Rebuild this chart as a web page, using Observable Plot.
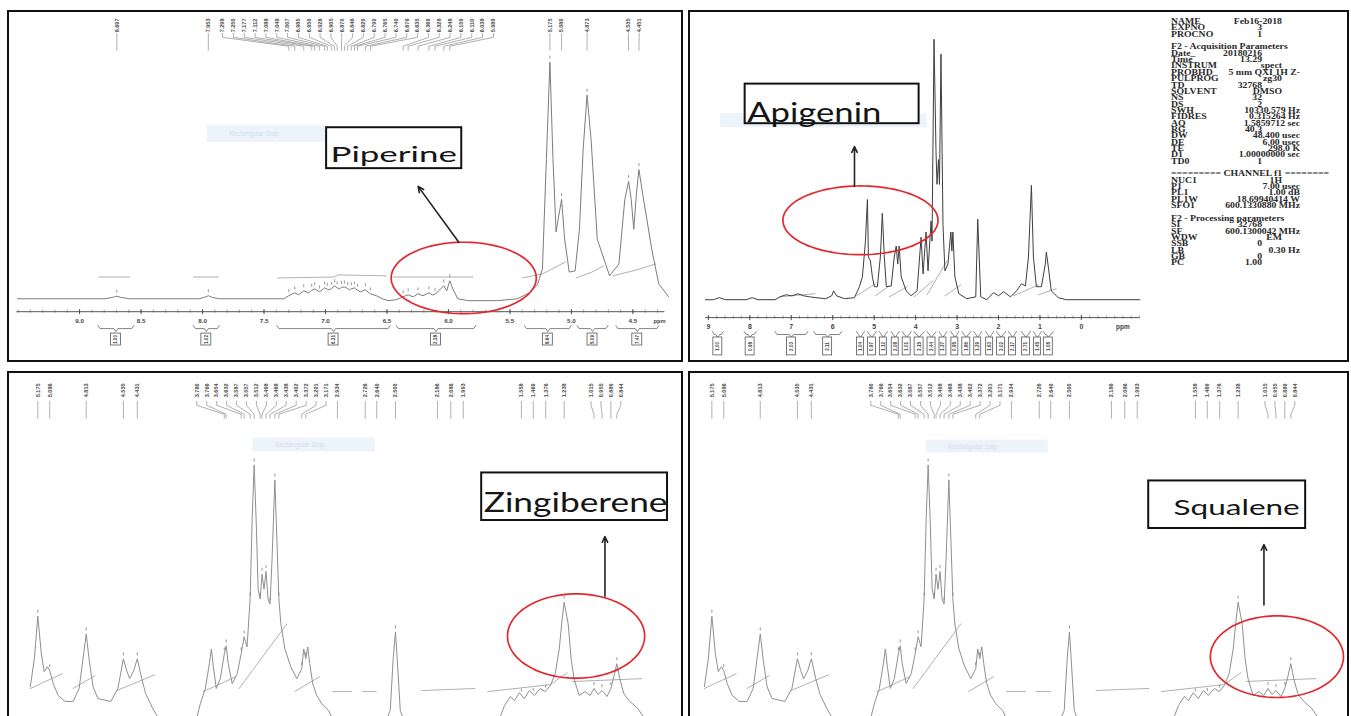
<!DOCTYPE html>
<html>
<head>
<meta charset="utf-8">
<script src="https://cdn.jsdelivr.net/npm/d3@7"></script>
<script src="https://cdn.jsdelivr.net/npm/@observablehq/plot@0.6"></script>
<style>
  html, body { margin: 0; padding: 0; background: #fff; }
  body { width: 1351px; height: 716px; overflow: hidden; position: relative; }
  .panel { position: absolute; border: 2px solid #111; box-sizing: border-box; overflow: hidden; background: #fff; }
  .panel > svg { position: absolute; left: -2px; top: -2px; }
  .params { position: absolute; transform: scaleX(1.3); transform-origin: 0 0;
            font-family: "Liberation Serif", "DejaVu Serif", serif; font-weight: bold; font-size: 7.5px; color: #2a2a2a; }
  .params div { position: absolute; left: 0; white-space: pre; line-height: 7px; }
  .params span.v { position: absolute; top: 0; transform: translateX(-100%); }
</style>
</head>
<body>
<div id="piperine" class="panel" style="left:7px;top:10px;width:676px;height:352px"></div>
<div id="apigenin" class="panel" style="left:688px;top:10px;width:661px;height:352px"></div>
<div id="zingiberene" class="panel" style="left:7px;top:371px;width:676px;height:350px"></div>
<div id="squalene" class="panel" style="left:688px;top:371px;width:661px;height:350px"></div>
<script>
// ---------- Piperine spectrum: [ppm, relative intensity] ----------
const piperineSpectrum = [
  [9.505,0],[8.794,0],[8.729,0.6],[8.697,1.1],[8.665,0.6],[8.592,0],
  [8.026,0],[7.985,0.6],[7.953,1.3],[7.921,0.6],[7.864,0],
  [7.339,0],[7.298,1.3],[7.250,2.5],[7.218,1.7],[7.177,3.4],[7.137,2.5],[7.112,3.6],[7.088,4.2],[7.048,2.9],
  [7.007,4.6],[6.985,4.0],[6.967,3.8],[6.950,4.4],[6.926,5.5],[6.905,4.6],[6.886,4.2],[6.870,4.8],[6.846,5.0],
  [6.820,4.3],[6.805,3.8],[6.790,4.2],[6.765,4.6],[6.740,3.6],[6.716,2.9],[6.676,3.8],[6.635,2.1],[6.587,1.3],
  [6.538,0],[6.490,-0.8],[6.425,-0.4],[6.369,0.8],[6.328,1.7],[6.288,0.8],[6.248,2.1],[6.207,1.3],[6.159,2.5],
  [6.130,1.6],[6.110,1.9],[6.070,3.8],[6.038,5.5],[6.014,3.4],[5.989,7.6],[5.965,4.2],[5.924,0],[5.843,-0.8],
  [5.601,-0.8],[5.439,0],[5.342,2.5],[5.277,5.9],[5.236,12.6],[5.204,58.8],[5.175,100],[5.150,58.8],[5.125,28.2],
  [5.105,34.5],[5.080,42.0],[5.055,25.2],[5.018,11.3],[4.970,11.8],[4.935,29.4],[4.905,63.0],[4.873,86.1],
  [4.840,67.2],[4.790,25.2],[4.690,9.7],[4.614,14.7],[4.566,42.0],[4.535,49.6],[4.514,42.0],[4.493,29.4],
  [4.472,44.1],[4.451,54.6],[4.420,44.1],[4.347,21.0],[4.290,6.3],[4.209,0.8]
];
const piperineIntegralTraces = [
  [[8.842,9.2],[8.592,9.2]],
  [[8.074,9.2],[7.872,9.2]],
  [[7.387,8.8],[6.935,9.2],[6.894,10.1],[6.506,9.7]],
  [[6.449,9.2],[5.802,9.2]],
  [[5.398,8.8],[5.236,10.5],[5.050,15.5]],
  [[4.962,8.8],[4.833,11.3],[4.736,13.9]],
  [[4.663,9.7],[4.469,12.2],[4.316,14.7]]
];
const piperinePeakGroups = [
  [8.697], [7.953],
  [7.298,7.250,7.177,7.112,7.088,7.048,7.007,6.985,6.950,6.926,6.905,6.870,6.846,
   6.820,6.790,6.765,6.740,6.676,6.635,6.369,6.328,6.248,6.159,6.110,6.038,5.989],
  [5.175,5.080], [4.873], [4.535,4.451]
];
const piperineIntegrals = [
  [8.850,8.559,"1.00"],[8.074,7.864,"1.02"],[7.395,6.474,"6.31"],[6.425,5.778,"2.18"],
  [5.382,5.002,"8.64"],[4.954,4.703,"5.09"],[4.639,4.290,"7.47"]
];
const piperineTickLabels = [9.0,8.5,8.0,7.5,7.0,6.5,6.0,5.5,5.0,4.5];
const piperineCallout = { name: "Piperine", box: [6.991,5.892,55.0,72.3], text: [6.959,5.932,58.0],
  ring: [5.876,8.8,0.590,15.1], arrow: [5.916,23.9,6.247,47.5], snip: [7.961,6.975,66.0,73.1], snipText: true };

// ---------- Apigenin spectrum ----------
const apigeninSpectrum = [
  [9.072,0],[8.880,0],[8.736,0.8],[8.592,0],[8.089,0],[7.945,0.8],[7.801,0],[7.393,0],[7.273,1.1],[7.129,1.9],
  [6.986,1.5],[6.842,2.3],[6.698,1.5],[6.554,1.1],[6.410,0.8],[6.170,0.4],[6.026,1.5],[5.978,3.4],[5.906,1.5],
  [5.715,0.4],[5.475,0.8],[5.355,5.0],[5.283,8.8],[5.211,22.5],[5.163,38.5],[5.139,16.4],[5.091,14.9],[5.043,8.8],
  [4.995,5.0],[4.923,5.0],[4.851,16.4],[4.803,33.2],[4.755,16.4],[4.707,5.0],[4.588,5.3],[4.516,16.4],[4.468,20.6],
  [4.432,13.7],[4.396,20.6],[4.348,8.8],[4.228,3.4],[4.108,1.5],[3.964,3.4],[3.868,24.0],[3.820,9.9],[3.748,26.0],
  [3.700,11.1],[3.628,30.2],[3.604,22.5],[3.556,100],[3.508,56.9],[3.484,44.3],[3.448,53.8],[3.424,44.3],[3.388,94.3],
  [3.340,29.0],[3.293,11.1],[3.221,13.7],[3.149,26.0],[3.125,18.7],[3.101,26.0],[3.053,8.8],[2.957,2.3],[2.765,0.4],
  [2.549,1.1],[2.501,30.9],[2.429,1.1],[2.285,0],[2.118,2.7],[1.998,1.5],[1.878,3.1],[1.710,1.1],[1.566,3.4],
  [1.446,6.1],[1.350,5.3],[1.278,16.4],[1.206,43.9],[1.158,16.4],[1.086,5.0],[0.966,5.0],[0.870,13.7],[0.846,18.3],
  [0.798,12.6],[0.727,3.4],[0.559,0.8],[0.367,0],[-1.408,0]
];
const apigeninIntegralTraces = [
  [[7.273,1.1],[6.434,2.3]],
  [[5.427,1.5],[4.971,6.1]],
  [[4.971,1.5],[4.635,5.3]],
  [[4.635,1.1],[4.204,5.0]],
  [[4.036,1.1],[3.580,7.3]],
  [[3.724,1.9],[3.245,14.9]],
  [[3.293,1.5],[2.909,5.7]],
  [[1.638,1.5],[1.038,5.7]],
  [[1.038,1.9],[0.607,4.2]]
];
const apigeninIntegrals = [
  [8.904,8.640,"1.00"],[8.137,7.849,"0.98"],[7.393,6.602,"2.03"],[6.458,5.787,"2.11"],[5.427,5.235,"1.04"],
  [5.163,4.947,"0.97"],[4.875,4.683,"1.12"],[4.588,4.396,"2.08"],[4.324,4.108,"1.01"],[4.036,3.796,"3.15"],
  [3.724,3.508,"2.44"],[3.436,3.245,"1.37"],[3.149,2.957,"0.95"],[2.885,2.669,"1.86"],[2.597,2.405,"1.29"],
  [2.309,2.118,"1.63"],[2.046,1.830,"3.02"],[1.758,1.566,"2.17"],[1.446,1.230,"2.71"],[1.158,0.966,"1.45"],
  [0.918,0.679,"1.08"]
];
const apigeninTickLabels = [9,8,7,6,5,4,3,2,1,0];
const apigeninCallout = { name: "Apigenin", box: [8.113,3.916,67.6,82.8], text: [8.065,4.827,68.3],
  ring: [5.331,30.5,1.871,13.2], arrow: [5.475,43.5,5.475,58.8], snip: [8.712,3.724,66.0,71.4], snipText: false };
const acquisitionParams = [
  ["NAME","Feb16-2018"],["EXPNO","3"],["PROCNO","1"],null,
  ["F2 - Acquisition Parameters",""],["Date_","20180216"],["Time","13.29"],["INSTRUM","spect"],
  ["PROBHD","5 mm QXI 1H Z-"],["PULPROG","zg30"],["TD","32768"],["SOLVENT","DMSO"],["NS","32"],["DS","2"],
  ["SWH","10330.579 Hz"],["FIDRES","0.315264 Hz"],["AQ","1.5859712 sec"],["RG","40.3"],["DW","48.400 usec"],
  ["DE","6.00 usec"],["TE","298.0 K"],["D1","1.00000000 sec"],["TD0","1"],null,
  ["========= CHANNEL f1 ========",""],["NUC1","1H"],["P1","7.00 usec"],["PL1","1.00 dB"],
  ["PL1W","18.69940414 W"],["SFO1","600.1330880 MHz"],null,
  ["F2 - Processing parameters",""],["SI","32768"],["SF","600.1300042 MHz"],["WDW","EM"],["SSB","0"],
  ["LB","0.30 Hz"],["GB","0"],["PC","1.00"]
];

// ---------- Extract spectrum (shown for zingiberene and squalene) ----------
const extractSpectrum = [
  [5.231,14.2],[5.201,25.0],[5.175,41.5],[5.149,26.9],[5.127,20.0],[5.104,21.9],[5.086,20.4],[5.060,15.4],
  [5.023,10.8],[4.971,8.5],[4.911,8.5],[4.866,13.5],[4.837,25.0],[4.813,34.6],[4.792,25.0],[4.762,14.2],
  [4.725,9.6],[4.629,8.5],[4.576,13.5],[4.535,25.0],[4.510,20.4],[4.488,17.3],[4.458,20.4],[4.431,25.0],
  [4.398,17.3],[4.368,11.5],[4.316,5.8],[4.264,1.2],[4.227,-0.8],[4.100,-2.0],
  [3.997,0],[3.959,7.7],[3.922,13.5],[3.892,23.1],[3.877,28.8],[3.862,21.9],[3.840,13.5],[3.810,17.3],
  [3.780,26.9],[3.766,30.0],[3.751,23.1],[3.721,15.4],[3.684,19.2],[3.654,26.9],[3.632,33.5],[3.610,29.6],
  [3.587,48.1],[3.572,78.8],[3.557,100],[3.542,78.8],[3.527,51.9],[3.512,48.1],[3.498,57.7],[3.483,51.9],
  [3.468,58.8],[3.453,48.1],[3.438,46.2],[3.423,63.5],[3.402,94.2],[3.387,71.2],[3.372,48.1],[3.357,38.5],
  [3.327,28.8],[3.283,21.9],[3.238,17.3],[3.201,21.2],[3.186,28.8],[3.171,25.0],[3.156,29.6],[3.141,23.1],
  [3.119,15.4],[3.089,10.8],[3.052,7.7],[3.000,5.0],[2.955,0],[2.800,-2.0],
  [2.591,-1.2],[2.539,5.0],[2.517,25.0],[2.500,35.4],[2.487,25.0],[2.464,5.0],[2.420,-1.2],[2.100,-2.0],
  [1.736,0],[1.684,6.9],[1.640,10.4],[1.610,8.8],[1.573,11.9],[1.536,9.6],[1.498,12.7],[1.461,10.8],
  [1.416,13.5],[1.379,12.3],[1.342,14.6],[1.305,19.2],[1.275,28.8],[1.253,40.4],[1.238,46.9],[1.208,38.5],
  [1.186,25.0],[1.164,17.3],[1.126,10.8],[1.082,12.3],[1.045,10.8],[1.015,13.5],[0.985,11.2],[0.955,12.7],
  [0.918,10.4],[0.889,13.5],[0.866,18.1],[0.844,23.1],[0.822,17.3],[0.792,11.5],[0.747,8.5],[0.688,5.8],
  [0.636,1.9]
];
const extractIntegralTraces = [
  [[5.231,13.5],[4.993,19.2]],
  [[4.911,13.5],[4.747,18.5]],
  [[4.584,12.7],[4.301,18.8]],
  [[3.937,12.3],[3.692,18.1]],
  [[3.669,13.5],[3.312,38.5]],
  [[3.253,12.3],[3.067,18.1]],
  [[2.970,12.3],[2.829,12.3]],
  [[2.747,12.3],[2.643,12.3]],
  [[2.301,12.7],[1.907,13.5]],
  [[1.811,12.3],[1.342,15.0],[1.216,19.6]],
  [[1.178,16.2],[0.658,17.3]]
];
const extractPeakGroups = [
  [5.175,5.086],[4.813],[4.535,4.431],
  [3.780,3.766,3.654,3.632,3.587,3.557,3.512,3.498,3.468,3.438,3.402,3.372,3.201,3.171],
  [2.934],[2.726,2.640],[2.500],[2.186,2.086,1.993],[1.558,1.469,1.376],[1.238],[1.015,0.955,0.889,0.844]
];
const zingibereneCallout = { name: "Zingiberene", box: [1.855,0.465,78.5,96.9], text: [1.840,0.465,81.9],
  ring: [1.149,33.8,0.513,16.3], arrow: [0.933,49.2,0.933,72.3], snip: [3.565,2.651,105.0,110.4], snipText: true };
const squaleneCallout = { name: "Squalene", box: [1.907,0.733,75.4,93.8], text: [1.721,0.777,80.8],
  ring: [0.948,25.8,0.498,15.8], arrow: [1.045,45.8,1.045,69.2], snip: [3.573,2.658,104.6,109.6], snipText: true };

// ---------- page layout (pixels) ----------
const topLabels = { y: 25, lead: [33, 37, 46, 50], gap: 10.9 };
const lowLabels = { y: 390, lead: [401, 405, 414, 418], gap: 10 };
const layouts = {
  piperine: { box: [7,10,676,352], xDomain: [9,4.5], xRange: [79.5,636.15], base: 300, unit: 2.38,
    ink: "#7b7b7b", labels: topLabels, nameSize: 22,
    axis: { y: 313, from: 9.51, to: 4.24, minor: 0.1, labelY: 322, ppmAt: 4.283, fmt: d3.format(".1f"), size: 6.3 },
    integ: { bracketY: 330, boxY: [335, 347], width: 10 } },
  apigenin: { box: [688,10,661,352], xDomain: [9,0], xRange: [708,1083.3], base: 301, unit: 2.62,
    ink: "#3c3c3c", nameSize: 27,
    axis: { y: 319, from: 9.07, to: -1.4, minor: 0.2, labelY: 328, ppmAt: -1.0, fmt: d3.format("d"), size: 7 },
    integ: { bracketY: 336, boxY: [339, 357], width: 9 } },
  zingiberene: { box: [7,371,676,350], xDomain: [5.175,1.238], xRange: [37.5,567.0], base: 725, unit: 2.6,
    ink: "#8e8e8e", labels: lowLabels, nameSize: 27 },
  squalene: { box: [688,371,661,350], xDomain: [5.175,1.238], xRange: [711.5,1241.0], base: 725, unit: 2.6,
    ink: "#8e8e8e", labels: lowLabels, nameSize: 21 }
};

// linear interpolation of a spectrum (sorted by decreasing ppm)
function valueAt(spec, ppm) {
  for (let i = 0; i < spec.length - 1; i++) {
    const [a, va] = spec[i], [b, vb] = spec[i + 1];
    if (ppm <= a && ppm >= b) return a === b ? va : va + (vb - va) * (ppm - a) / (b - a);
  }
  return 0;
}
// Bruker-style label placement: keep labels on their peaks unless they would collide
function spread(xs, gap) {
  let ok = true;
  for (let i = 1; i < xs.length; i++) if (xs[i] - xs[i - 1] < gap) ok = false;
  if (ok) return xs;
  const m = d3.mean(xs);
  return xs.map((_, i) => m + (i - (xs.length - 1) / 2) * gap);
}
const flat = segs => segs.flatMap((s, k) => s.map(p => ({ ppm: p[0], v: p[1], k })));

function drawPanel(id, D) {
  const L = layouts[id];
  const [left, top, width, height] = L.box;
  const sx = d3.scaleLinear(L.xDomain, L.xRange);       // ppm -> page x
  const lv = py => (L.base - py) / L.unit;               // page y -> intensity
  const marks = [];
  const C = D.callout;

  // faint screen-capture strip
  marks.push(Plot.rect([C.snip], { x1: d => d[0], x2: d => d[1], y1: d => d[2], y2: d => d[3], fill: "#edf3fb" }));
  if (C.snipText) {
    marks.push(Plot.text([C.snip], { x: d => d[0], y: d => (d[2] + d[3]) / 2, dx: 22, text: () => "Rectangular Snip",
      textAnchor: "start", fontSize: 6.5, fill: "#d3ddeb", fontFamily: "Liberation Sans" }));
  }

  // integral traces and spectrum
  marks.push(Plot.line(flat(D.integralTraces), { x: "ppm", y: "v", z: "k", stroke: "#9b9b9b", strokeWidth: 0.8 }));
  marks.push(Plot.line(D.spectrum, { x: d => d[0], y: d => d[1], stroke: L.ink, strokeWidth: 1 }));

  // peak picking labels
  if (D.peakGroups) {
    const Lb = L.labels, labels = [], leaders = [], picks = [];
    D.peakGroups.forEach(group => {
      const xs = spread(group.map(v => sx(v)), Lb.gap);
      group.forEach((v, i) => {
        const k = labels.length;
        labels.push({ ppm: sx.invert(xs[i]), text: v.toFixed(3) });
        [[xs[i], Lb.lead[0]], [xs[i], Lb.lead[1]], [sx(v), Lb.lead[2]], [sx(v), Lb.lead[3]]]
          .forEach(([px, py]) => leaders.push({ ppm: sx.invert(px), v: lv(py), k }));
        const h = valueAt(D.spectrum, v);
        picks.push({ ppm: v, v1: h + 3 / L.unit, v2: h + 6 / L.unit });
      });
    });
    marks.push(Plot.line(leaders, { x: "ppm", y: "v", z: "k", stroke: "#8c8c8c", strokeWidth: 0.7 }));
    marks.push(Plot.text(labels, { x: "ppm", y: () => lv(Lb.y), text: "text", rotate: -90, fontSize: 5.6,
      fontWeight: "bold", fill: "#4d4d4d", fontFamily: "Liberation Sans" }));
    marks.push(Plot.ruleX(picks, { x: "ppm", y1: "v1", y2: "v2", stroke: "#7a7a7a", strokeWidth: 0.8 }));
  }

  // ppm axis
  if (L.axis) {
    const A = L.axis;
    marks.push(Plot.ruleY([A], { y: () => lv(A.y), x1: () => A.from, x2: () => A.to, stroke: "#555", strokeWidth: 1 }));
    const minor = d3.range(Math.ceil(A.to / A.minor - 1e-6), Math.floor(A.from / A.minor + 1e-6) + 1).map(i => i * A.minor);
    marks.push(Plot.ruleX(minor, { x: d => d, y1: () => lv(A.y - 1.5), y2: () => lv(A.y + 1.5), stroke: "#666", strokeWidth: 0.7 }));
    marks.push(Plot.ruleX(D.tickLabels, { x: d => d, y1: () => lv(A.y - 2), y2: () => lv(A.y + 3), stroke: "#444", strokeWidth: 0.9 }));
    marks.push(Plot.text(D.tickLabels, { x: d => d, y: () => lv(A.labelY), text: d => A.fmt(d), fontSize: A.size,
      fontWeight: "bold", fill: "#444", fontFamily: "Liberation Sans" }));
    marks.push(Plot.text(["ppm"], { x: () => A.ppmAt, y: () => lv(A.labelY), text: d => d, fontSize: A.size - 0.5,
      fontWeight: "bold", fill: "#444", fontFamily: "Liberation Sans" }));
  }

  // integration brackets and values
  if (D.integrals) {
    const G = L.integ, brackets = [], boxes = [];
    D.integrals.forEach(([a, b, val], k) => {
      const xa = sx(a), xb = sx(b), xm = (xa + xb) / 2, y = G.bracketY;
      [[xa, y - 3], [xa + 2, y], [xm - 2, y], [xm, y + 3], [xm + 2, y], [xb - 2, y], [xb, y - 3]]
        .forEach(([px, py]) => brackets.push({ ppm: sx.invert(px), v: lv(py), k }));
      const w = Math.min(G.width, xb - xa - 1) / 2;
      boxes.push({ x1: sx.invert(xm - w), x2: sx.invert(xm + w), y1: lv(G.boxY[1]), y2: lv(G.boxY[0]),
        mid: sx.invert(xm), val });
    });
    marks.push(Plot.line(brackets, { x: "ppm", y: "v", z: "k", stroke: "#666", strokeWidth: 0.8 }));
    marks.push(Plot.rect(boxes, { x1: "x1", x2: "x2", y1: "y1", y2: "y2", fill: "#fff", stroke: "#555", strokeWidth: 0.8 }));
    marks.push(Plot.text(boxes, { x: "mid", y: d => (d.y1 + d.y2) / 2, text: "val", rotate: -90, fontSize: 4.6,
      fontWeight: "bold", fill: "#444", fontFamily: "Liberation Sans" }));
  }

  // callout: ring, arrow, boxed compound name
  const ring = d3.range(0, 361, 3).map(a => ({
    ppm: C.ring[0] + C.ring[2] * Math.cos(a * Math.PI / 180),
    v: C.ring[1] + C.ring[3] * Math.sin(a * Math.PI / 180) }));
  marks.push(Plot.line(ring, { x: "ppm", y: "v", stroke: "#e2272e", strokeWidth: 1.7 }));
  marks.push(Plot.arrow([C.arrow], { x1: d => d[0], y1: d => d[1], x2: d => d[2], y2: d => d[3],
    stroke: "#222", strokeWidth: 1.6, headLength: 6, headAngle: 50 }));
  marks.push(Plot.rect([C.box], { x1: d => d[0], x2: d => d[1], y1: d => d[2], y2: d => d[3], fill: "#fff" }));
  marks.push(Plot.text([C], { x: d => d.text[0], y: d => d.text[2], text: d => d.name, textAnchor: "start",
    lineAnchor: "bottom", fontSize: L.nameSize, fontFamily: "Lato", fill: "#151515" }));
  marks.push(Plot.rect([C.box], { x1: d => d[0], x2: d => d[1], y1: d => d[2], y2: d => d[3],
    fill: "none", stroke: "#111", strokeWidth: 2 }));

  const svg = Plot.plot({
    width, height, margin: 0,
    x: { domain: L.xDomain, range: L.xRange.map(v => v - left), axis: null },
    y: { domain: [0, 100], range: [L.base - top, L.base - top - 100 * L.unit], axis: null },
    style: { background: "transparent", overflow: "visible" },
    marks
  });
  // stretch the compound name to its measured width
  svg.querySelectorAll("text").forEach(t => {
    if (t.textContent === C.name) {
      t.setAttribute("textLength", sx(C.text[1]) - sx(C.text[0]));
      t.setAttribute("lengthAdjust", "spacingAndGlyphs");
    }
  });
  document.getElementById(id).appendChild(svg);
}

drawPanel("piperine", { spectrum: piperineSpectrum, integralTraces: piperineIntegralTraces,
  peakGroups: piperinePeakGroups, integrals: piperineIntegrals, tickLabels: piperineTickLabels, callout: piperineCallout });
drawPanel("apigenin", { spectrum: apigeninSpectrum, integralTraces: apigeninIntegralTraces,
  integrals: apigeninIntegrals, tickLabels: apigeninTickLabels, callout: apigeninCallout });
drawPanel("zingiberene", { spectrum: extractSpectrum, integralTraces: extractIntegralTraces,
  peakGroups: extractPeakGroups, callout: zingibereneCallout });
drawPanel("squalene", { spectrum: extractSpectrum, integralTraces: extractIntegralTraces,
  peakGroups: extractPeakGroups, callout: squaleneCallout });

// acquisition / processing parameter block beside the apigenin spectrum
(function () {
  const host = document.getElementById("apigenin");
  const block = document.createElement("div");
  block.className = "params";
  block.style.left = (1171 - 690) + "px";
  block.style.top = "6px";
  const pitch = 6.35, scaleX = 1.3;
  acquisitionParams.forEach((row, i) => {
    if (!row) return;
    const line = document.createElement("div");
    line.style.top = (i * pitch) + "px";
    line.textContent = row[0];
    if (row[1]) {
      const v = document.createElement("span");
      v.className = "v";
      v.textContent = row[1];
      const end = /\s/.test(row[1]) ? 1300 : /^[\d.]+$/.test(row[1]) ? 1262 : 1282;
      v.style.left = ((end - 1171) / scaleX) + "px";
      line.appendChild(v);
    }
    block.appendChild(line);
  });
  host.appendChild(block);
})();
</script>
</body>
</html>
